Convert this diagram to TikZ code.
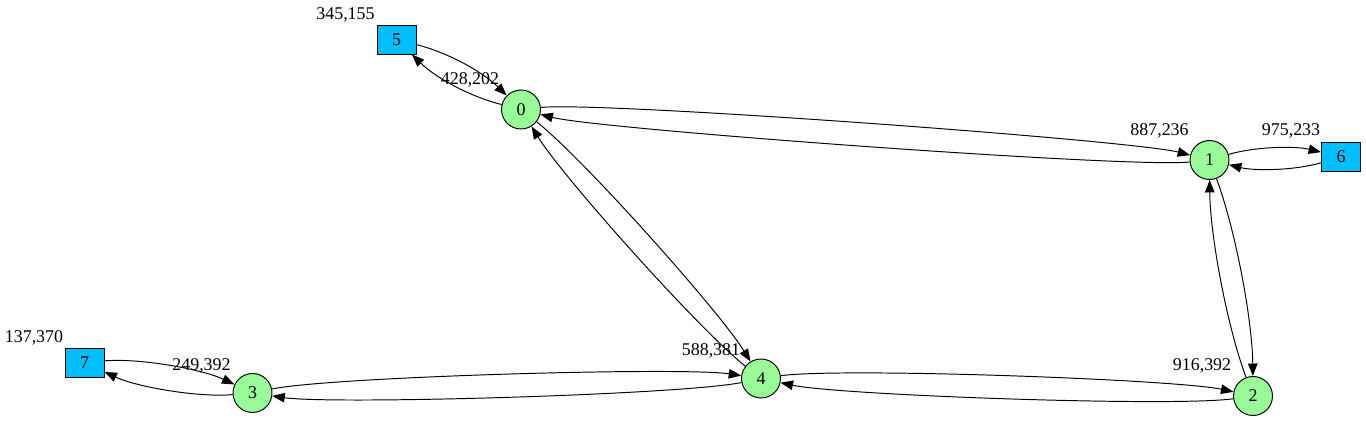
\documentclass[tikz,border=0pt]{standalone}
\usepackage{fontspec}
\setmainfont{Liberation Serif}
\usetikzlibrary{arrows.meta}
\definecolor{stategreen}{HTML}{98FB98}
\definecolor{boxblue}{HTML}{00BFFF}

\begin{document}
\begin{tikzpicture}[x=0.02cm,y=-0.02cm,
		font=\fontsize{10.2}{12}\selectfont,
		state/.style={circle,draw,fill=stategreen,minimum size=0.78cm,inner sep=0pt,line width=0.55pt},
		box/.style={rectangle,draw,fill=boxblue,minimum width=0.78cm,minimum height=0.58cm,inner sep=0pt,line width=0.55pt},
		xy/.style={anchor=base,inner sep=0pt},
		link/.style={-{Triangle[length=0.25cm,width=0.19cm]},line width=0.55pt,bend left=15},
		long/.style={link,bend left=10}]
				\useasboundingbox (0,0) rectangle (1366,421);
				\node[state] (n0) at (521,109.5) {0};
				\node[state] (n1) at (1209.5,160) {1};
				\node[state] (n2) at (1253,396) {2};
				\node[state] (n3) at (252.5,393) {3};
				\node[state] (n4) at (761,378.5) {4};
				\node[box] (n5) at (396.5,39.5) {5};
				\node[box] (n6) at (1341,157) {6};
				\node[box] (n7) at (84.5,362.5) {7};
				\node[xy] (l0) at (470,85) {428,202};
				\node[xy] (l1) at (1159.5,136) {887,236};
				\node[xy] (l2) at (1202,370.7) {916,392};
				\node[xy] (l3) at (201.5,370.7) {249,392};
				\node[xy] (l4) at (711,355.3) {588,381};
				\node[xy] (l5) at (345.5,19.5) {345,155};
				\node[xy] (l6) at (1291,136) {975,233};
				\node[xy] (l7) at (34,342.7) {137,370};
				\draw[link,looseness=0.83] (n5) to (n0);
				\draw[link,looseness=0.83] (n0) to (n5);
				\draw[long,looseness=0.24] (n0) to (n1);
				\draw[long,looseness=0.24] (n1) to (n0);
				\draw[link,looseness=0.75] (n1) to (n6);
				\draw[link,looseness=0.75] (n6) to (n1);
				\draw[long,looseness=0.7] (n1) to (n2);
				\draw[long,looseness=0.7] (n2) to (n1);
				\draw[long,looseness=0.47] (n0) to (n4);
				\draw[long,looseness=0.47] (n4) to (n0);
				\draw[long,looseness=0.33] (n3) to (n4);
				\draw[long,looseness=0.33] (n4) to (n3);
				\draw[long,looseness=0.34] (n4) to (n2);
				\draw[long,looseness=0.34] (n2) to (n4);
				\draw[link,looseness=0.69] (n7) to (n3);
				\draw[link,looseness=0.69] (n3) to (n7);
\end{tikzpicture}
\end{document}
